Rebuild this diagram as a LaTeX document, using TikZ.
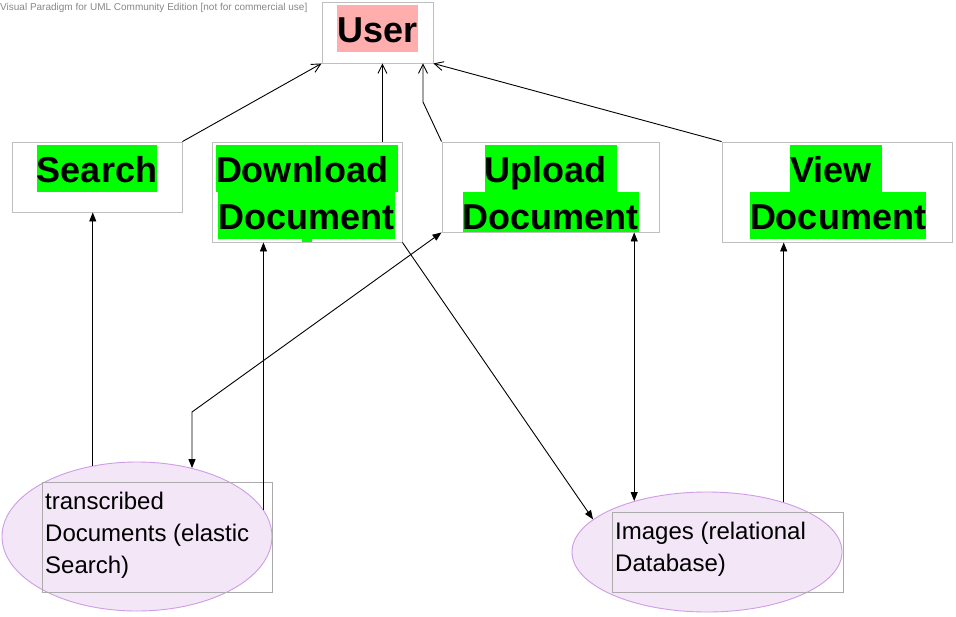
\documentclass[tikz,border=0pt]{standalone}
\usepackage{fontspec}
\setmainfont{Liberation Sans}
\usetikzlibrary{arrows.meta,calc,shapes.geometric}
\definecolor{boxgray}{HTML}{BFBFBF}
\definecolor{rectgray}{HTML}{ABABAB}
\definecolor{wmgray}{HTML}{888888}
\definecolor{userpink}{HTML}{FFADAD}
\definecolor{ucgreen}{HTML}{00FF00}
\definecolor{dbfill}{HTML}{F3E6F7}
\definecolor{dbline}{HTML}{CF9CE6}
\begin{document}
\begin{tikzpicture}[x=1pt,y=-1pt,
  ucbox/.style={draw=boxgray,line width=0.9pt,fill=white,rectangle,inner sep=0pt},
  hl/.style={fill=#1,inner sep=0pt,text height=37pt,text depth=10pt,anchor=base,
    font=\bfseries\fontsize{36}{36}\selectfont},
  dbell/.style={ellipse,draw=dbline,line width=0.9pt,fill=dbfill,inner sep=0pt},
  dbbox/.style={draw=rectgray,line width=0.9pt,rectangle,inner sep=0pt},
  dbtext/.style={anchor=base west,inner sep=0pt,font=\fontsize{24}{32}\selectfont},
  assoc/.style={draw=black,line width=0.9pt,-{Straight Barb[length=9pt,width=9pt,line width=0.9pt]}},
  dep/.style={draw=black,line width=0.9pt,-{Triangle[length=9pt,width=7pt]}},
  depboth/.style={draw=black,line width=0.9pt,{Triangle[length=9pt,width=7pt]}-{Triangle[length=9pt,width=7pt]}}
]
\useasboundingbox[fill=white] (0,0) rectangle (956,616);

% watermark
\node[anchor=base west,inner sep=0pt,text=wmgray,font=\fontsize{10}{12}\selectfont] (wm) at (0,10)
  {Visual Paradigm for UML Community Edition [not for commercial use]};

% use case / actor boxes
\node[ucbox,minimum width=111pt,minimum height=61pt] (user) at (377.5,32.5) {};
\node[hl=userpink] (usert) at (377.5,42) {User};

\node[ucbox,minimum width=170pt,minimum height=70pt] (search) at (97,177) {};
\node[hl=ucgreen] (searcht) at (97,182) {Search};

\node[ucbox,minimum width=190pt,minimum height=100pt] (dl) at (307,192) {};
\node[hl=ucgreen] (dlt1) at (307,182) {Download\kern0.278em};
\node[hl=ucgreen] (dlt2) at (306.5,229) {Document};
\fill[ucgreen] (302,238) rectangle (312,242);

\node[ucbox,minimum width=217pt,minimum height=90pt] (ul) at (550.5,187) {};
\node[hl=ucgreen] (ult1) at (550.5,182) {Upload\kern0.278em};
\node[hl=ucgreen,text depth=2.5pt] (ult2) at (550.5,229) {Document};

\node[ucbox,minimum width=230pt,minimum height=100pt] (view) at (837,192) {};
\node[hl=ucgreen] (viewt1) at (836,182) {View\kern0.278em};
\node[hl=ucgreen] (viewt2) at (838,229) {Document};

% databases
\node[dbell,minimum width=270pt,minimum height=149pt] (trans) at (137,536.5) {};
\node[dbbox,minimum width=230pt,minimum height=110pt] (transr) at (157,537) {};
\node[dbtext] (tt1) at (45,509) {transcribed};
\node[dbtext] (tt2) at (45,541) {Documents (elastic};
\node[dbtext] (tt3) at (45,573) {Search)};

\node[dbell,minimum width=270pt,minimum height=120pt] (img) at (707,552) {};
\node[dbbox,minimum width=231pt,minimum height=80pt] (imgr) at (727.5,552) {};
\node[dbtext] (it1) at (615,539) {Images (relational};
\node[dbtext] (it2) at (615,571) {Database)};

% connectors to User
\draw[assoc] (search.north east) -- (user.south west);
\coordinate (dlu) at ($(dl.north east)+(-20,0)$);
\draw[assoc] (dlu) -- (dlu |- user.south);
\coordinate (ubend) at (423,102);
\draw[assoc] (ul.north west) -- (ubend) -- (ubend |- user.south);
\draw[assoc] (view.north west) -- (user.south east);

% data connectors
\draw[dep] (trans.122.5) -- (trans.122.5 |- search.south);
\draw[dep] (trans.12.7) -- (trans.12.7 |- dl.south);
\coordinate (tbend) at (192,412);
\draw[depboth] (ul.south west) -- (tbend) -- (tbend |- trans.51);
\draw[dep] (dl.south east) -- (img.164.9);
\draw[depboth] (img.145.8) -- (img.145.8 |- ul.south);
\draw[dep] (img.33.7) -- (img.33.7 |- view.south);
\end{tikzpicture}
\end{document}
